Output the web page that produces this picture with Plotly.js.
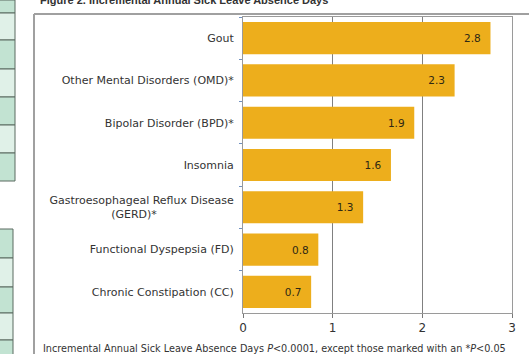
<!DOCTYPE html>
<html><head><meta charset="utf-8">
<script src="https://cdn.plot.ly/plotly-3.0.1.min.js"></script>
<style>html,body{margin:0;padding:0;background:#fff;}#chart{width:529px;height:354px;}</style>
</head><body><div id="chart"></div>
<script>
var categories = [
  'Gout',
  'Other Mental Disorders (OMD)*',
  'Bipolar Disorder (BPD)*',
  'Insomnia',
  'Gastroesophageal Reflux Disease<br>(GERD)*' + '&nbsp;'.repeat(22),
  'Functional Dyspepsia (FD)',
  'Chronic Constipation (CC)'
];
var values = [2.76, 2.36, 1.91, 1.65, 1.34, 0.84, 0.76];
var valueLabels = ['2.8', '2.3', '1.9', '1.6', '1.3', '0.8', '0.7'];
var xTicks = [0, 1, 2, 3];

var W = 529, H = 354, L = 243, R = 17, T = 17, B = 41;
var pw = W - L - R, ph = H - T - B;
function px(x){ return (x - L) / pw; }
function py(y){ return (H - B - y) / ph; }

var shapes = [];
// outer frame of the figure panel
shapes.push({type:'line', xref:'paper', yref:'paper', x0:px(34), x1:px(529), y0:py(14), y1:py(14), line:{color:'#a0a0a0', width:2}});
shapes.push({type:'line', xref:'paper', yref:'paper', x0:px(34), x1:px(34), y0:py(14), y1:py(354), line:{color:'#a0a0a0', width:2}});
// decorative table fragments on the left
var rowsA = [0, 13, 40, 69, 97, 125, 153, 181];
for (var i = 0; i < rowsA.length - 1; i++) {
  shapes.push({type:'rect', xref:'paper', yref:'paper', x0:px(-2), x1:px(15), y0:py(rowsA[i]), y1:py(rowsA[i+1]),
    fillcolor: i % 2 === 0 ? '#c2e3d2' : '#e0f1e8', line:{color:'#5a6a60', width:1}});
}
var rowsB = [229, 258, 287, 313, 340, 360];
for (var j = 0; j < rowsB.length - 1; j++) {
  shapes.push({type:'rect', xref:'paper', yref:'paper', x0:px(-2), x1:px(13), y0:py(rowsB[j]), y1:py(rowsB[j+1]),
    fillcolor: j % 2 === 0 ? '#c2e3d2' : '#e0f1e8', line:{color:'#5a6a60', width:1}});
}

var trace = {
  type: 'bar',
  orientation: 'h',
  y: categories,
  x: values,
  text: valueLabels,
  texttemplate: '%{text}\u00a0\u00a0',
  textposition: 'inside',
  insidetextanchor: 'end',
  textangle: 0,
  textfont: {family: 'DejaVu Sans, sans-serif', size: 10.5, color: '#2e2814'},
  marker: {color: '#EDAE1C', line: {width: 0}},
  width: 0.76,
  hoverinfo: 'none',
  cliponaxis: false
};

var layout = {
  width: W, height: H,
  margin: {l: L, r: R, t: T, b: B, pad: 0},
  paper_bgcolor: '#ffffff',
  plot_bgcolor: '#ffffff',
  showlegend: false,
  font: {family: 'DejaVu Sans, sans-serif', color: '#333'},
  xaxis: {
    range: [0, 3],
    tickvals: xTicks,
    ticktext: xTicks.map(String),
    showgrid: true, gridcolor: '#808080', gridwidth: 1,
    zeroline: false,
    showline: true, linecolor: '#9a9a9a', linewidth: 1, mirror: true,
    ticks: 'outside', ticklen: 4, tickcolor: '#777',
    tickfont: {size: 12, color: '#333'},
    fixedrange: true
  },
  yaxis: {
    autorange: 'reversed',
    showgrid: false, zeroline: false,
    showline: true, linecolor: '#9a9a9a', linewidth: 1, mirror: true,
    ticks: 'outside', tickson: 'boundaries', ticklen: 3, tickcolor: '#7090c0',
    tickfont: {size: 11, color: '#333'},
    ticklabelstandoff: 6,
    fixedrange: true
  },
  bargap: 0.24,
  shapes: shapes,
  annotations: [
    {xref:'paper', yref:'paper', x: px(38), y: py(0), xanchor:'left', yanchor:'middle', showarrow:false,
     text:'<b>Figure 2. Incremental Annual Sick Leave Absence Days</b>', font:{family:'Liberation Sans, Arial, sans-serif', size: 11, color:'#333'}},
    {xref:'paper', yref:'paper', x: px(274), y: py(348), xanchor:'center', yanchor:'middle', showarrow:false,
     text:'Incremental Annual Sick Leave Absence Days <i>P</i>&lt;0.0001, except those marked with an *<i>P</i>&lt;0.05',
     font:{size: 9.7, color:'#333'}}
  ]
};

Plotly.newPlot('chart', [trace], layout, {displayModeBar: false, staticPlot: true});
</script>
</body></html>
